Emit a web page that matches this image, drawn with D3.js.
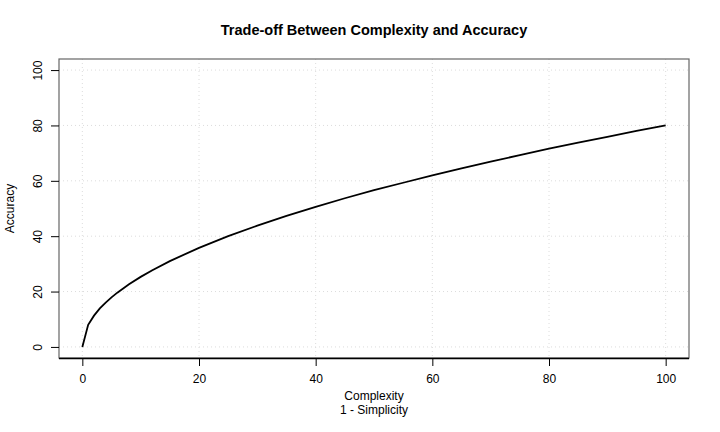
<!DOCTYPE html>
<html>
<head>
<meta charset="utf-8">
<script src="https://cdn.jsdelivr.net/npm/d3@7"></script>
<style>
  body { margin: 0; background: #fff; }
  text { font-family: "Liberation Sans", Arial, sans-serif; fill: #000; }
</style>
</head>
<body>
<div id="canvas"></div>
<script>
// values
const complexity = [0, 1, 2, 3, 4, 5, 6, 8, 10, 12, 15, 20, 25, 30, 35, 40, 45, 50, 55, 60, 65, 70, 75, 80, 85, 90, 95, 100];
const accuracy = [0, 8, 11.3, 13.9, 16, 17.9, 19.6, 22.6, 25.3, 27.7, 31, 35.8, 40, 43.8, 47.3, 50.6, 53.7, 56.6, 59.3, 62, 64.5, 66.9, 69.3, 71.6, 73.8, 75.9, 78, 80];
const xTicks = [0, 20, 40, 60, 80, 100];
const yTicks = [0, 20, 40, 60, 80, 100];

const width = 720;
const height = 432;
const margin = { top: 59, left: 59, bottom: 74, right: 31 };
const iwidth = width - margin.left - margin.right;
const iheight = height - margin.top - margin.bottom;

const svg = d3.select("#canvas").append("svg")
  .attr("width", width)
  .attr("height", height);

const g = svg.append("g")
  .attr("transform", `translate(${margin.left}, ${margin.top})`);

// R style 4% padding on each side
const x = d3.scaleLinear().domain([-4, 104]).range([0, iwidth]);
const y = d3.scaleLinear().domain([-4, 104]).range([iheight, 0]);

// dotted grid
g.append("g").selectAll("line").data(xTicks).enter().append("line")
  .attr("x1", (d) => x(d)).attr("x2", (d) => x(d))
  .attr("y1", 0).attr("y2", iheight)
  .attr("stroke", "#dcdcdc").attr("stroke-dasharray", "1,3");
g.append("g").selectAll("line").data(yTicks).enter().append("line")
  .attr("y1", (d) => y(d)).attr("y2", (d) => y(d))
  .attr("x1", 0).attr("x2", iwidth)
  .attr("stroke", "#dcdcdc").attr("stroke-dasharray", "1,3");

// curve
const points = complexity.map((c, i) => [c, accuracy[i]]);
g.append("path")
  .datum(points)
  .attr("fill", "none")
  .attr("stroke", "#000")
  .attr("stroke-width", 1.8)
  .attr("d", d3.line().x((d) => x(d[0])).y((d) => y(d[1])));

// box
g.append("rect")
  .attr("x", 0).attr("y", 0)
  .attr("width", iwidth).attr("height", iheight)
  .attr("fill", "none").attr("stroke", "#666").attr("stroke-width", 1.2);

// axes
const xAxis = g.append("g")
  .attr("transform", `translate(0, ${iheight})`)
  .call(d3.axisBottom(x).tickValues(xTicks).tickSize(8).tickPadding(8));
xAxis.select(".domain").attr("d", `M0,0.5H${iwidth}`).attr("stroke", "#000").attr("stroke-width", 1.5);
xAxis.selectAll("text").style("font-size", "12px").attr("font-family", null);

const yAxis = g.append("g")
  .call(d3.axisLeft(y).tickValues(yTicks).tickSize(8).tickPadding(6));
yAxis.select(".domain").remove();
yAxis.selectAll("text")
  .style("font-size", "12px")
  .attr("font-family", null)
  .attr("text-anchor", "middle")
  .attr("x", 0)
  .attr("y", 0)
  .attr("dy", null)
  .attr("transform", "translate(-17, 0) rotate(-90)");

// titles
svg.append("text")
  .attr("x", margin.left + iwidth / 2)
  .attr("y", 35)
  .attr("text-anchor", "middle")
  .style("font-size", "14.5px")
  .style("font-weight", "bold")
  .text("Trade-off Between Complexity and Accuracy");

svg.append("text")
  .attr("x", margin.left + iwidth / 2)
  .attr("y", 400)
  .attr("text-anchor", "middle")
  .style("font-size", "12px")
  .text("Complexity");

svg.append("text")
  .attr("x", margin.left + iwidth / 2)
  .attr("y", 414)
  .attr("text-anchor", "middle")
  .style("font-size", "12px")
  .text("1 - Simplicity");

svg.append("text")
  .attr("transform", `translate(14, ${margin.top + iheight / 2}) rotate(-90)`)
  .attr("text-anchor", "middle")
  .style("font-size", "12px")
  .text("Accuracy");
</script>
</body>
</html>
